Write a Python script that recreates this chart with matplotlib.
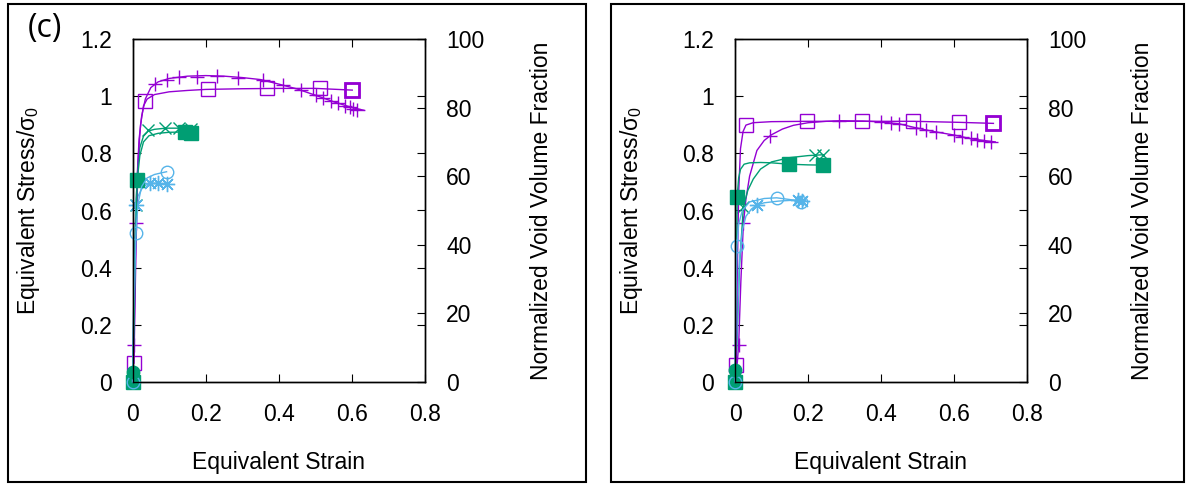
import matplotlib
matplotlib.use("Agg")
import matplotlib.pyplot as plt
from matplotlib.patches import Rectangle
from matplotlib.ticker import FormatStrFormatter

plt.rcParams['font.family'] = ['Liberation Sans', 'DejaVu Sans']
plt.rcParams['font.size'] = 16.5

PURPLE = '#9400d3'
GREEN = '#009e73'
BLUE = '#56b4e9'

# ---------------- panel (c), left ----------------
# stress curves (left axis)
c_plus_x = [0, 0.002, 0.004, 0.008, 0.012, 0.018, 0.025, 0.035, 0.05, 0.07, 0.1, 0.15,
            0.2, 0.25, 0.3, 0.35, 0.4, 0.45, 0.5, 0.55, 0.6, 0.634]
c_plus_y = [0, 0.05, 0.13, 0.45, 0.7, 0.85, 0.93, 0.99, 1.03, 1.05, 1.062, 1.07,
            1.072, 1.07, 1.065, 1.058, 1.042, 1.025, 1.003, 0.98, 0.96, 0.95]
c_plus_mx = [0.004, 0.009, 0.061, 0.095, 0.128, 0.175, 0.23, 0.289, 0.357, 0.411, 0.461,
             0.502, 0.52, 0.543, 0.561, 0.58, 0.593, 0.602, 0.612]
c_plus_my = [0.13, 0.557, 1.044, 1.058, 1.067, 1.068, 1.072, 1.065, 1.058, 1.04, 1.022,
             1.003, 0.994, 0.984, 0.975, 0.967, 0.961, 0.956, 0.952]

c_cross_x = [0, 0.003, 0.006, 0.01, 0.015, 0.02, 0.03, 0.043, 0.06, 0.09, 0.13, 0.165]
c_cross_y = [0, 0.2, 0.45, 0.64, 0.76, 0.82, 0.86, 0.878, 0.884, 0.888, 0.888, 0.884]
c_cross_mx = [0.0095, 0.043, 0.089, 0.128, 0.161]
c_cross_my = [0.62, 0.88, 0.888, 0.888, 0.884]

c_star_x = [0, 0.003, 0.0095, 0.015, 0.025, 0.035, 0.048, 0.07, 0.093]
c_star_y = [0, 0.25, 0.62, 0.65, 0.675, 0.688, 0.695, 0.695, 0.693]
c_star_mx = [0.0095, 0.048, 0.07, 0.093]
c_star_my = [0.62, 0.697, 0.695, 0.693]

# void volume fraction curves (right axis)
c_sq_x = [0.004, 0.008, 0.012, 0.016, 0.022, 0.03, 0.04, 0.06, 0.1, 0.15, 0.2, 0.3,
          0.4, 0.5, 0.6]
c_sq_y = [5.5, 30, 52, 66, 75, 80.5, 82.5, 83.8, 84.6, 85.0, 85.3, 85.5, 85.6, 85.6, 85.1]
c_sq_mx = [0.004, 0.034, 0.207, 0.366, 0.513, 0.598]
c_sq_my = [5.5, 82, 85.3, 85.6, 85.6, 85.1]

c_fsq_x = [0, 0.004, 0.008, 0.013, 0.02, 0.03, 0.045, 0.07, 0.1, 0.143, 0.161]
c_fsq_y = [0, 15, 40, 58.9, 66, 70, 71.8, 72.5, 72.8, 72.9, 72.7]
c_fsq_mx = [0.0, 0.013, 0.143, 0.161]
c_fsq_my = [0, 58.9, 72.9, 72.7]

c_circ_x = [0, 0.003, 0.0095, 0.015, 0.025, 0.04, 0.06, 0.08, 0.093]
c_circ_y = [0, 20, 43.5, 52, 57, 59.5, 60.5, 61, 61.3]
c_circ_mx = [0.0, 0.0095, 0.093]
c_circ_my = [0, 43.5, 61.3]

c_dot_x = [0.002]
c_dot_y = [3]

# ---------------- right panel ----------------
r_plus_x = [0, 0.004, 0.01, 0.016, 0.023, 0.03, 0.04, 0.06, 0.08, 0.1, 0.13, 0.16, 0.2,
            0.25, 0.29, 0.35, 0.4, 0.45, 0.5, 0.55, 0.6, 0.65, 0.713]
r_plus_y = [0, 0.03, 0.13, 0.35, 0.555, 0.64, 0.72, 0.81, 0.845, 0.865, 0.885, 0.898,
            0.907, 0.912, 0.914, 0.913, 0.91, 0.903, 0.888, 0.875, 0.864, 0.85, 0.84]
r_plus_mx = [0.01, 0.023, 0.0955, 0.286, 0.399, 0.427, 0.45, 0.495, 0.523, 0.55, 0.6,
             0.623, 0.646, 0.664, 0.682, 0.7]
r_plus_my = [0.13, 0.555, 0.86, 0.914, 0.91, 0.905, 0.903, 0.889, 0.882, 0.875, 0.864,
             0.858, 0.852, 0.847, 0.842, 0.84]

r_cross_x = [0, 0.005, 0.012, 0.023, 0.035, 0.05, 0.07, 0.1, 0.15, 0.2, 0.241]
r_cross_y = [0, 0.12, 0.4, 0.613, 0.67, 0.71, 0.745, 0.77, 0.785, 0.792, 0.795]
r_cross_mx = [0.023, 0.218, 0.241]
r_cross_my = [0.613, 0.794, 0.794]

r_star_x = [0, 0.005, 0.012, 0.02, 0.03, 0.045, 0.059, 0.08, 0.12, 0.16, 0.185]
r_star_y = [0, 0.15, 0.42, 0.53, 0.58, 0.605, 0.619, 0.627, 0.633, 0.636, 0.636]
r_star_mx = [0.059, 0.173, 0.183]
r_star_my = [0.619, 0.636, 0.633]

r_sq_x = [0.003, 0.006, 0.01, 0.015, 0.022, 0.03, 0.05, 0.1, 0.196, 0.35, 0.49, 0.615, 0.708]
r_sq_y = [5, 30, 55, 68, 73, 74.9, 75.6, 75.9, 76.0, 76.0, 76.0, 75.7, 75.4]
r_sq_mx = [0.003, 0.030, 0.196, 0.347, 0.487, 0.615, 0.708]
r_sq_my = [5, 74.9, 76, 76, 76, 75.7, 75.4]

r_fsq_x = [0, 0.002, 0.004, 0.006, 0.01, 0.015, 0.025, 0.04, 0.07, 0.1, 0.148, 0.2, 0.26]
r_fsq_y = [0, 15, 35, 54, 59.5, 62, 63.5, 63.9, 64, 63.9, 63.5, 63.3, 63.2]
r_fsq_mx = [0.0, 0.006, 0.148, 0.241]
r_fsq_my = [0, 54, 63.5, 63.2]

r_circ_x = [0, 0.002, 0.005, 0.01, 0.02, 0.04, 0.08, 0.114, 0.15, 0.182]
r_circ_y = [0, 20, 39.6, 46, 50, 52.5, 53.5, 53.7, 53.2, 52.5]
r_circ_mx = [0.0, 0.005, 0.114, 0.182]
r_circ_my = [0, 39.6, 53.7, 52.5]

r_dot_x = [0.001]
r_dot_y = [3.5]

xticks = [0, 0.2, 0.4, 0.6, 0.8]
yticks = [0, 0.2, 0.4, 0.6, 0.8, 1.0, 1.2]
y2ticks = [0, 20, 40, 60, 80, 100]

ASTER = (8, 2, 0)


def curve(ax, x, y, mx, my, color, marker, ms, filled=False, last_bold=False):
    ax.plot(x, y, color=color, lw=1.0, clip_on=False)
    face = color if filled else 'none'
    ax.plot(mx, my, ls='none', marker=marker, ms=ms, mec=color, mfc=face,
            mew=1.0, clip_on=False)
    if last_bold:
        ax.plot(mx[-1:], my[-1:], ls='none', marker=marker, ms=ms, mec=color,
                mfc='none', mew=2.0, clip_on=False)


def panel(ax, d):
    ax2 = ax.twinx()
    curve(ax, d['plus'][0], d['plus'][1], d['plus'][2], d['plus'][3], PURPLE, '+', 10)
    curve(ax, d['cross'][0], d['cross'][1], d['cross'][2], d['cross'][3], GREEN, 'x', 8)
    curve(ax, d['star'][0], d['star'][1], d['star'][2], d['star'][3], BLUE, ASTER, 11)
    curve(ax2, d['sq'][0], d['sq'][1], d['sq'][2], d['sq'][3], PURPLE, 's', 9.5,
          last_bold=True)
    curve(ax2, d['fsq'][0], d['fsq'][1], d['fsq'][2], d['fsq'][3], GREEN, 's', 9.5,
          filled=True)
    curve(ax2, d['circ'][0], d['circ'][1], d['circ'][2], d['circ'][3], BLUE, 'o', 9)
    ax2.plot(d['dot'][0], d['dot'][1], ls='none', marker='o', ms=9, color=GREEN,
             clip_on=False)

    ax.set_xlim(0, 0.8)
    ax.set_ylim(0, 1.2)
    ax2.set_ylim(0, 100)
    ax.set_xticks(xticks)
    ax.set_yticks(yticks)
    ax2.set_yticks(y2ticks)
    ax.xaxis.set_major_formatter(FormatStrFormatter('%g'))
    ax.yaxis.set_major_formatter(FormatStrFormatter('%g'))
    ax.tick_params(direction='in', length=6, width=0.8, top=True, right=True,
                   pad=15)
    ax2.tick_params(direction='in', length=6, width=0.8, pad=15)
    for a in (ax, ax2):
        for s in a.spines.values():
            s.set_linewidth(1.0)

    ax.set_xlabel('Equivalent Strain')
    ax.xaxis.set_label_coords(0.5, -0.236)
    ax.xaxis.label.set_va('center')
    ax.set_ylabel(r'Equivalent Stress/σ$\mathregular{_0}$')
    ax.yaxis.set_label_coords(-0.355, 0.5)
    ax.yaxis.label.set_va('center')
    ax2.set_ylabel('Normalized Void Volume Fraction')
    ax2.yaxis.set_label_coords(1.395, 0.5)
    ax2.yaxis.label.set_va('center')


left = dict(plus=(c_plus_x, c_plus_y, c_plus_mx, c_plus_my),
            cross=(c_cross_x, c_cross_y, c_cross_mx, c_cross_my),
            star=(c_star_x, c_star_y, c_star_mx, c_star_my),
            sq=(c_sq_x, c_sq_y, c_sq_mx, c_sq_my),
            fsq=(c_fsq_x, c_fsq_y, c_fsq_mx, c_fsq_my),
            circ=(c_circ_x, c_circ_y, c_circ_mx, c_circ_my),
            dot=(c_dot_x, c_dot_y))
right = dict(plus=(r_plus_x, r_plus_y, r_plus_mx, r_plus_my),
             cross=(r_cross_x, r_cross_y, r_cross_mx, r_cross_my),
             star=(r_star_x, r_star_y, r_star_mx, r_star_my),
             sq=(r_sq_x, r_sq_y, r_sq_mx, r_sq_my),
             fsq=(r_fsq_x, r_fsq_y, r_fsq_mx, r_fsq_my),
             circ=(r_circ_x, r_circ_y, r_circ_mx, r_circ_my),
             dot=(r_dot_x, r_dot_y))

W, H = 1188, 486
fig = plt.figure(figsize=(W / 100, H / 100), dpi=100)

ax_l = fig.add_axes([132.5 / W, (H - 382) / H, 293 / W, 343 / H])
ax_r = fig.add_axes([735 / W, (H - 382) / H, 292 / W, 343 / H])
panel(ax_l, left)
panel(ax_r, right)

# boxes around each panel
for x0, x1 in ((8, 586), (611, 1184)):
    fig.patches.append(Rectangle((x0 / W, 4 / H), (x1 - x0) / W, 478 / H,
                                 transform=fig.transFigure, fill=False,
                                 lw=1.5, ec='black'))

fig.text(45 / W, 1 - 29 / H, '(c)', family=['Open Sans', 'DejaVu Sans'],
         fontsize=23, ha='center', va='center')

fig.savefig('out.png', dpi=100)
